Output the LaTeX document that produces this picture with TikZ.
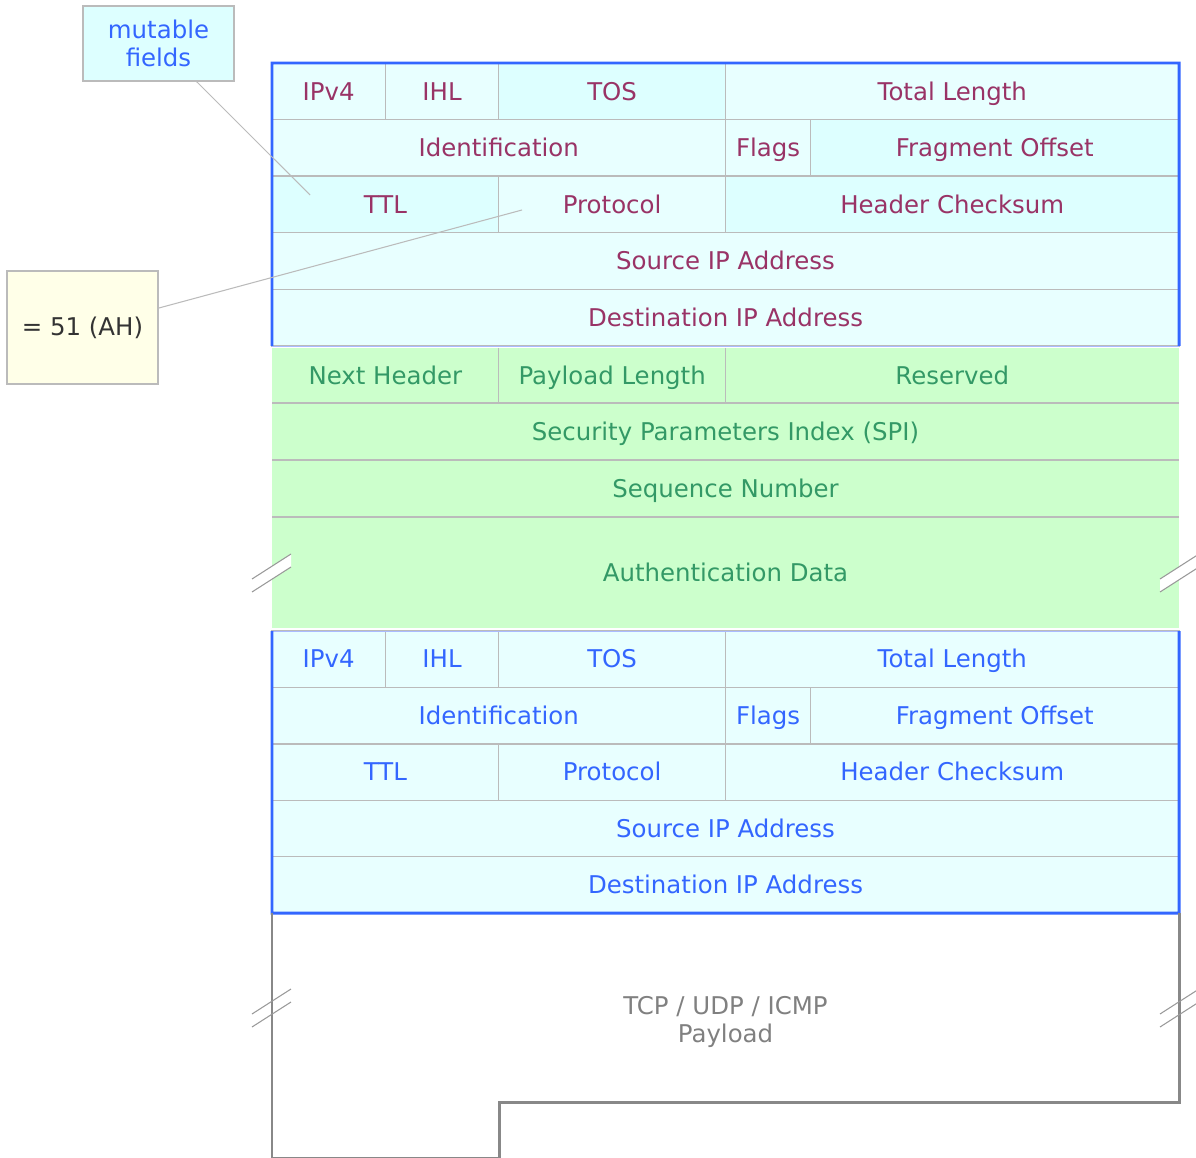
\documentclass[tikz,border=0pt]{standalone}
\usepackage{fontspec}
\setmainfont{DejaVu Sans}
\usetikzlibrary{calc}

\definecolor{ipfill}{HTML}{E8FFFF}
\definecolor{mutfill}{HTML}{DDFFFF}
\definecolor{ahfill}{HTML}{CCFFCC}
\definecolor{gridgray}{HTML}{BBBBBB}
\definecolor{ipblue}{HTML}{3366FF}
\definecolor{lightblue}{HTML}{AABBFF}
\definecolor{outertext}{HTML}{993366}
\definecolor{ahtext}{HTML}{339966}
\definecolor{paygray}{HTML}{888888}
\definecolor{notefill}{HTML}{FFFFE8}
\newcommand\fieldfont{\fontsize{13.9}{15.9}\selectfont}

\begin{document}
\begin{tikzpicture}[x=0.02cm, y=-0.02cm,
	cell/.style={draw=gridgray, line width=0.8pt, fill=ipfill, anchor=north west,
		inner sep=0pt, outer sep=0pt, minimum height=56.6*0.02cm, font=\fieldfont,
		text height=11.5pt, text depth=1.5pt},
	wd/.style={minimum width=#1*0.02cm},
	ht/.style={minimum height=#1*0.02cm},
	mut/.style={fill=mutfill},
	outer/.style={cell, text=outertext},
	inner/.style={cell, text=ipblue, minimum height=56.4*0.02cm},
	ahcell/.style={cell, draw=none, fill=ahfill, text=ahtext},
	gridline/.style={draw=gridgray, line width=0.8pt},
	ipborder/.style={draw=ipblue, line width=1.7pt},
	seam/.style={draw=lightblue, line width=0.5pt},
	payborder/.style={draw=paygray, line width=1.7pt},
	breakline/.style={draw=gray!80, line width=0.6pt},
	note/.style={draw=gridgray, line width=0.6pt, inner sep=0pt, align=center,
		minimum width=151*0.02cm, font=\fieldfont},
	noteline/.style={draw=gridgray, line width=0.6pt}]
\useasboundingbox (0,0) rectangle (1196,1158);

% outer IP header
\node[outer, wd=113.375] (ipv4a) at (272,63) {IPv4};
\node[outer, wd=113.375] (ihla) at (385.375,63) {IHL};
\node[outer, mut, wd=226.75] (tosa) at (498.75,63) {TOS};
\node[outer, wd=453.5] (tlena) at (725.5,63) {Total Length};
\node[outer, wd=453.5] (ida) at (272,119.6) {Identification};
\node[outer, wd=85.03] (flagsa) at (725.5,119.6) {Flags};
\node[outer, mut, wd=368.47] (fraga) at (810.53,119.6) {Fragment Offset};
\node[outer, mut, wd=226.75] (ttla) at (272,176.2) {TTL};
\node[outer, wd=226.75] (protoa) at (498.75,176.2) {Protocol};
\node[outer, mut, wd=453.5] (csuma) at (725.5,176.2) {Header Checksum};
\node[outer, wd=907] (srca) at (272,232.8) {Source IP Address};
\node[outer, wd=907] (dsta) at (272,289.4) {Destination IP Address};
\draw[seam] (dsta.south west) -- (dsta.south east);
\draw[ipborder] (dsta.south west) -- (ipv4a.north west) -- (tlena.north east) -- (dsta.south east);

% authentication header
\node[ahcell, wd=226.75, ht=55] (nh) at (272,348) {Next Header};
\node[ahcell, wd=226.75, ht=55] (plen) at (498.75,348) {Payload Length};
\node[ahcell, wd=453.5, ht=55] (resv) at (725.5,348) {Reserved};
\node[ahcell, wd=907, ht=57] (spi) at (272,403) {Security Parameters Index (SPI)};
\node[ahcell, wd=907, ht=57] (seq) at (272,460) {Sequence Number};
\node[ahcell, wd=907, ht=111] (auth) at (272,517) {Authentication Data};
\draw[gridline] (nh.north east) -- (nh.south east);
\draw[gridline] (plen.north east) -- (plen.south east);
\draw[gridline] (spi.north west) -- (spi.north east);
\draw[gridline] (seq.north west) -- (seq.north east);
\draw[gridline] (auth.north west) -- (auth.north east);

% inner IP header
\node[inner, wd=113.375] (ipv4b) at (272,631) {IPv4};
\node[inner, wd=113.375] (ihlb) at (385.375,631) {IHL};
\node[inner, wd=226.75] (tosb) at (498.75,631) {TOS};
\node[inner, wd=453.5] (tlenb) at (725.5,631) {Total Length};
\node[inner, wd=453.5] (idb) at (272,687.4) {Identification};
\node[inner, wd=85.03] (flagsb) at (725.5,687.4) {Flags};
\node[inner, wd=368.47] (fragb) at (810.53,687.4) {Fragment Offset};
\node[inner, wd=226.75] (ttlb) at (272,743.8) {TTL};
\node[inner, wd=226.75] (protob) at (498.75,743.8) {Protocol};
\node[inner, wd=453.5] (csumb) at (725.5,743.8) {Header Checksum};
\node[inner, wd=907] (srcb) at (272,800.2) {Source IP Address};
\node[inner, wd=907] (dstb) at (272,856.6) {Destination IP Address};
\draw[seam] (ipv4b.north west) -- (tlenb.north east);
\draw[ipborder] (ipv4b.north west) -- (dstb.south west) -- (dstb.south east) -- (tlenb.north east);

% payload
\draw[payborder] (272,913) -- (272,1158) -- (499,1158) -- (499,1102) -- (1179,1102) -- (1179,913);
\node[font=\fontsize{13.9}{16}\selectfont, text=gray, align=center] (payload) at (725.5,1022) {TCP / UDP / ICMP\\Payload};

% break marks
\foreach \bx in {252,1160}
	\fill[white] (\bx,592) -- ++(39,-25) -- ++(0,-13) -- ++(-39,25) -- cycle;
\foreach \bx/\by in {252/592, 1160/592, 252/1027, 1160/1027} {
	\draw[breakline] (\bx,\by) -- ++(39,-25);
	\draw[breakline] (\bx,\by-13) -- ++(39,-25);
}

% notes
\node[note, fill=mutfill, text=ipblue, minimum height=75*0.02cm] (mutable) at (158.5,43.5) {mutable\\fields};
\node[note, fill=notefill, text=black!80, minimum height=113*0.02cm] (ahval) at (82.5,327.5) {= 51 (AH)};
\coordinate (ttlmark) at (310,195);
\coordinate (protomark) at (522,210);
\draw[noteline] ($(mutable.south west)!0.75!(mutable.south east)$) -- (ttlmark);
\draw[noteline] ($(ahval.north east)!0.33!(ahval.south east)$) -- (protomark);
\end{tikzpicture}
\end{document}
